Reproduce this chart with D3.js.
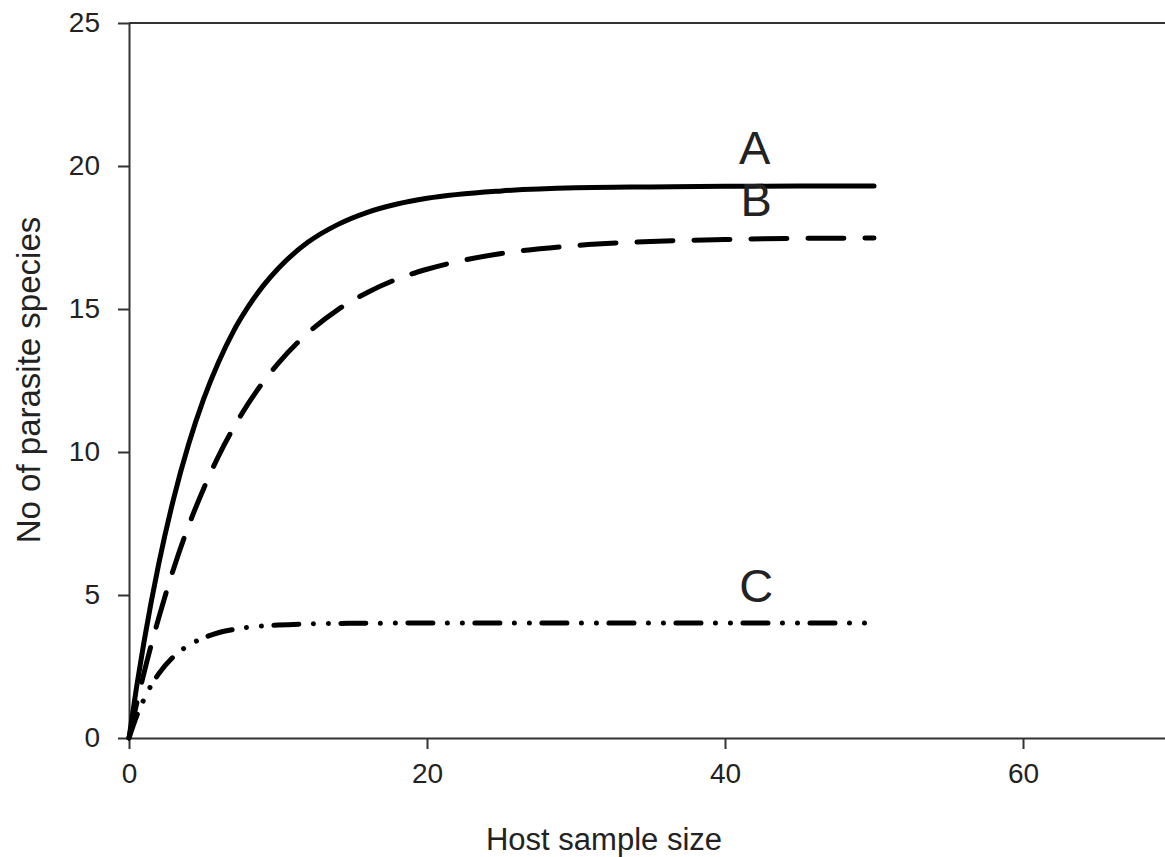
<!DOCTYPE html>
<html>
<head>
<meta charset="utf-8">
<script src="https://cdn.jsdelivr.net/npm/d3@7"></script>
<style>
  html, body { margin: 0; padding: 0; background: #fff; }
  svg { display: block; }
  text { font-family: "Liberation Sans", Arial, sans-serif; fill: #222; }
</style>
</head>
<body>
<svg id="chart" width="1165" height="857"></svg>
<script>
// ---- data ----
const hostSampleA = [0, 0.5, 1, 2, 3, 4, 5, 6, 7, 8, 9, 10, 12, 14, 16, 18, 20, 25, 30, 35, 40, 45, 50];
const speciesA    = [0, 1.75, 3.34, 6.10, 8.38, 10.27, 11.84, 13.13, 14.21, 15.08, 15.81, 16.41, 17.33, 17.95, 18.38, 18.67, 18.87, 19.13, 19.24, 19.27, 19.29, 19.30, 19.30];

const hostSampleB = [0, 0.5, 1, 2, 3, 4, 5, 6, 7, 8, 9, 10, 12, 14, 16, 18, 20, 25, 30, 35, 40, 45, 50];
const speciesB    = [0, 1.17, 2.26, 4.21, 5.93, 7.42, 8.71, 9.85, 10.83, 11.69, 12.44, 13.09, 14.16, 14.97, 15.58, 16.05, 16.39, 16.94, 17.22, 17.36, 17.43, 17.47, 17.48];

const hostSampleC = [0, 0.5, 1, 1.5, 2, 3, 4, 5, 6, 7, 8, 10, 12, 15, 20, 30, 40, 50];
const speciesC    = [0, 0.75, 1.35, 1.85, 2.25, 2.85, 3.24, 3.50, 3.68, 3.79, 3.87, 3.95, 3.99, 4.01, 4.02, 4.02, 4.02, 4.02];

const curveLabels = ["A", "B", "C"];
const labelPos = [{x: 42, y: 19.3}, {x: 42.1, y: 17.5}, {x: 42.1, y: 4.0}];
const xTicks = [0, 20, 40, 60];
const yTicks = [0, 5, 10, 15, 20, 25];
const xTitle = "Host sample size";
const yTitle = "No of parasite species";

// ---- layout ----
const svg = d3.select("#chart");
const x = d3.scaleLinear().domain([0, 70]).range([129, 1172]);
const y = d3.scaleLinear().domain([0, 25]).range([738, 23]);

// top frame line
svg.append("line")
  .attr("x1", x(0)).attr("x2", x(70))
  .attr("y1", y(25)).attr("y2", y(25))
  .attr("stroke", "#333").attr("stroke-width", 2);

// axes
const xAxis = svg.append("g")
  .attr("transform", `translate(0,${y(0)})`)
  .call(d3.axisBottom(x).tickValues(xTicks).tickSize(11).tickSizeOuter(0).tickPadding(14));
const yAxis = svg.append("g")
  .attr("transform", `translate(${x(0)},0)`)
  .call(d3.axisLeft(y).tickValues(yTicks).tickSize(11).tickSizeOuter(0).tickPadding(18));

[xAxis, yAxis].forEach(g => {
  g.select(".domain").attr("stroke", "#333").attr("stroke-width", 2);
  g.selectAll(".tick line").attr("stroke", "#333").attr("stroke-width", 2);
  g.selectAll(".tick text")
    .attr("fill", "#222")
    .style("font-family", '"Liberation Sans", Arial, sans-serif')
    .style("font-size", "28px");
});

// curves
const line = d3.line()
  .x(d => x(d[0]))
  .y(d => y(d[1]))
  .curve(d3.curveMonotoneX);

const series = [
  {xs: hostSampleA, ys: speciesA, dash: null},
  {xs: hostSampleB, ys: speciesB, dash: "36,21"},
  {xs: hostSampleC, ys: speciesC, dash: "25,14.5,0.01,15,0.01,12.5"}
];

series.forEach(s => {
  const pts = s.xs.map((v, i) => [v, s.ys[i]]);
  const p = svg.append("path")
    .datum(pts)
    .attr("d", line)
    .attr("fill", "none")
    .attr("stroke", "#000")
    .attr("stroke-width", 5)
    .attr("stroke-linecap", "round")
    .attr("stroke-linejoin", "round");
  if (s.dash) p.attr("stroke-dasharray", s.dash);
});

// curve labels
curveLabels.forEach((lab, i) => {
  svg.append("text")
    .attr("x", x(labelPos[i].x))
    .attr("y", y(labelPos[i].y) - 22)
    .attr("text-anchor", "middle")
    .style("font-size", "47px")
    .text(lab);
});

// axis titles
svg.append("text")
  .attr("x", 604)
  .attr("y", 850)
  .attr("text-anchor", "middle")
  .style("font-size", "31px")
  .text(xTitle);

svg.append("text")
  .attr("transform", "translate(40,380) rotate(-90)")
  .attr("text-anchor", "middle")
  .style("font-size", "33px")
  .text(yTitle);
</script>
</body>
</html>
